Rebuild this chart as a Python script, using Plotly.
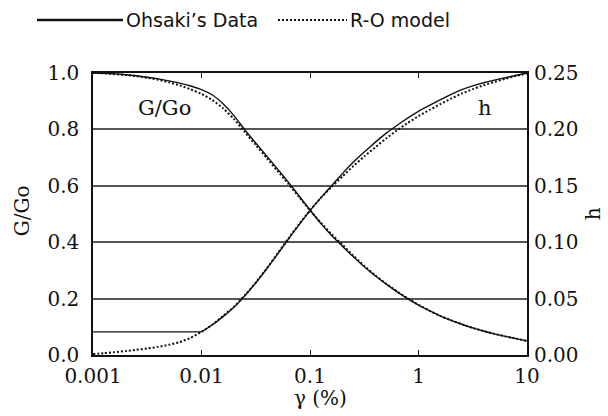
import plotly.graph_objects as go

gamma = [0.001, 0.00126, 0.00158, 0.002, 0.00251, 0.00316, 0.00398, 0.00501, 0.00631, 0.00794,
         0.01, 0.0126, 0.0158, 0.02, 0.0251, 0.0316, 0.0398, 0.0501, 0.0631, 0.0794,
         0.1, 0.126, 0.158, 0.2, 0.251, 0.316, 0.398, 0.501, 0.631, 0.794,
         1.0, 1.26, 1.58, 2.0, 2.51, 3.16, 3.98, 5.01, 6.31, 7.94, 10.0]

G_ohsaki = [1.000, 0.999, 0.997, 0.994, 0.990, 0.985, 0.979, 0.972, 0.964, 0.954,
            0.941, 0.922, 0.891, 0.848, 0.798, 0.752, 0.706, 0.660, 0.613, 0.564,
            0.514, 0.466, 0.424, 0.385, 0.348, 0.313, 0.281, 0.252, 0.225, 0.200,
            0.177, 0.157, 0.139, 0.123, 0.109, 0.096, 0.085, 0.075, 0.066, 0.058, 0.050]

G_ro = [1.000, 0.999, 0.996, 0.993, 0.989, 0.983, 0.976, 0.967, 0.956, 0.942,
        0.926, 0.904, 0.875, 0.836, 0.790, 0.745, 0.699, 0.653, 0.607, 0.560,
        0.513, 0.469, 0.428, 0.390, 0.352, 0.316, 0.283, 0.253, 0.226, 0.201,
        0.178, 0.157, 0.139, 0.123, 0.109, 0.096, 0.085, 0.075, 0.066, 0.058, 0.050]

h_ohsaki = [0.0205, 0.0205, 0.0205, 0.0205, 0.0205, 0.0205, 0.0205, 0.0205, 0.0205, 0.0205,
            0.0207, 0.0268, 0.0340, 0.0425, 0.0525, 0.0638, 0.0762, 0.0893, 0.1026, 0.1156,
            0.1280, 0.1395, 0.1500, 0.1610, 0.1710, 0.1800, 0.1885, 0.1965, 0.2035, 0.2100,
            0.2160, 0.2212, 0.2262, 0.2310, 0.2352, 0.2386, 0.2414, 0.2437, 0.2458, 0.2480, 0.2500]

h_ro = [0.0008, 0.0016, 0.0025, 0.0035, 0.0046, 0.0058, 0.0072, 0.0090, 0.0115, 0.0152,
        0.0205, 0.0270, 0.0345, 0.0430, 0.0530, 0.0642, 0.0766, 0.0898, 0.1032, 0.1160,
        0.1283, 0.1393, 0.1490, 0.1585, 0.1675, 0.1760, 0.1840, 0.1918, 0.1990, 0.2057,
        0.2117, 0.2172, 0.2223, 0.2273, 0.2318, 0.2357, 0.2391, 0.2421, 0.2449, 0.2474, 0.2495]

x_tickvals = [0.001, 0.01, 0.1, 1, 10]
x_ticktext = ["0.001", "0.01", "0.1", "1", "10"]
yl_tickvals = [0.0, 0.2, 0.4, 0.6, 0.8, 1.0]
yl_ticktext = ["0.0", "0.2", "0.4", "0.6", "0.8", "1.0"]
yr_tickvals = [0.0, 0.05, 0.10, 0.15, 0.20, 0.25]
yr_ticktext = ["0.00", "0.05", "0.10", "0.15", "0.20", "0.25"]

SERIF = "DejaVu Serif"
SANS = "DejaVu Sans"
BLACK = "#111111"
DOT = "2px,2px"

fig = go.Figure()
fig.add_trace(go.Scatter(x=gamma, y=G_ohsaki, mode="lines", name="Ohsaki's Data",
                         line=dict(color=BLACK, width=1.4, shape="spline", smoothing=0.6),
                         showlegend=False))
fig.add_trace(go.Scatter(x=gamma, y=G_ro, mode="lines", name="R-O model",
                         line=dict(color=BLACK, width=2, dash=DOT, shape="spline", smoothing=0.6),
                         showlegend=False))
fig.add_trace(go.Scatter(x=gamma, y=h_ohsaki, mode="lines", yaxis="y2",
                         line=dict(color=BLACK, width=1.4, shape="spline", smoothing=0.3),
                         showlegend=False))
fig.add_trace(go.Scatter(x=gamma, y=h_ro, mode="lines", yaxis="y2",
                         line=dict(color=BLACK, width=2, dash=DOT, shape="spline", smoothing=0.6),
                         showlegend=False))

fig.update_layout(
    width=608, height=416, autosize=False,
    margin=dict(l=93, r=81, t=72.5, b=61, pad=0),
    paper_bgcolor="white", plot_bgcolor="white",
    font=dict(family=SERIF, size=20, color=BLACK),
    xaxis=dict(type="log", range=[-3, 1], tickmode="array", tickvals=x_tickvals, ticktext=x_ticktext,
               ticks="inside", ticklen=5, tickwidth=1.2, tickcolor=BLACK,
               showline=True, linecolor=BLACK, linewidth=1.5, mirror="ticks",
               showgrid=False, zeroline=False, ticklabelstandoff=2,
               tickfont=dict(family=SERIF, size=20, color=BLACK)),
    yaxis=dict(range=[0, 1], tickmode="array", tickvals=yl_tickvals, ticktext=yl_ticktext,
               ticks="", showline=True, linecolor=BLACK, linewidth=1.5, mirror=True,
               showgrid=True, gridcolor="#555555", gridwidth=1.6, zeroline=False,
               ticklabelstandoff=8, tickfont=dict(family=SERIF, size=20, color=BLACK)),
    yaxis2=dict(range=[0, 0.25], overlaying="y", side="right", tickmode="array",
                tickvals=yr_tickvals, ticktext=yr_ticktext, ticks="", showline=False,
                showgrid=False, zeroline=False, ticklabelstandoff=6,
                tickfont=dict(family=SERIF, size=20, color=BLACK)),
)

def px2paper_x(px):
    return (px - 93) / 434.0

def px2paper_y(py):
    return (355 - py) / 282.5

ann = [
    dict(text="G/Go", x=px2paper_x(22), y=px2paper_y(211), textangle=-90,
         font=dict(family=SERIF, size=20, color=BLACK)),
    dict(text="h", x=px2paper_x(593), y=px2paper_y(214), textangle=-90,
         font=dict(family=SERIF, size=20, color=BLACK)),
    dict(text="γ (%)", x=px2paper_x(320), y=px2paper_y(398),
         font=dict(family=SERIF, size=20, color=BLACK)),
    dict(text="G/Go", x=px2paper_x(164), y=px2paper_y(108),
         font=dict(family=SERIF, size=21, color=BLACK)),
    dict(text="h", x=px2paper_x(485), y=px2paper_y(108),
         font=dict(family=SERIF, size=21, color=BLACK)),
    dict(text="Ohsaki’s Data", x=px2paper_x(124), y=px2paper_y(19.5), xanchor="left",
         font=dict(family=SANS, size=19, color=BLACK)),
    dict(text="R-O model", x=px2paper_x(348), y=px2paper_y(19.5), xanchor="left",
         font=dict(family=SANS, size=19, color=BLACK)),
]
for a in ann:
    a.setdefault("xanchor", "center")
    a.update(xref="paper", yref="paper", yanchor="middle", showarrow=False)
    fig.add_annotation(**a)

fig.add_shape(type="line", xref="paper", yref="paper",
              x0=px2paper_x(37), x1=px2paper_x(123), y0=px2paper_y(19.5), y1=px2paper_y(19.5),
              line=dict(color=BLACK, width=2.5))
fig.add_shape(type="line", xref="paper", yref="paper",
              x0=px2paper_x(278), x1=px2paper_x(347), y0=px2paper_y(19.5), y1=px2paper_y(19.5),
              line=dict(color=BLACK, width=2, dash=DOT))

fig.write_html("out.html")
